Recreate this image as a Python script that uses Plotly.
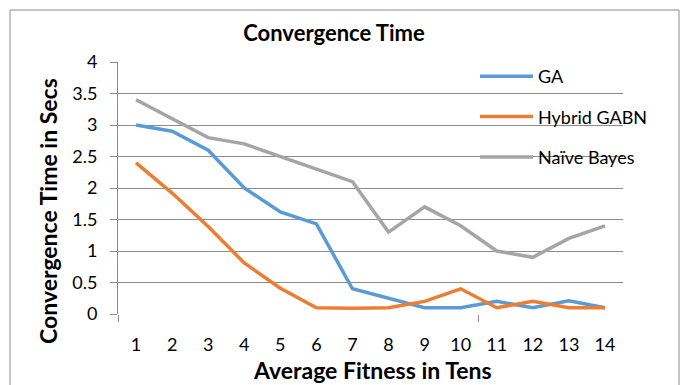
import plotly.graph_objects as go

categories = list(range(1, 15))
ga = [3.0, 2.9, 2.6, 2.0, 1.62, 1.43, 0.4, 0.25, 0.1, 0.1, 0.2, 0.1, 0.21, 0.1]
hybrid = [2.4, 1.92, 1.39, 0.81, 0.41, 0.1, 0.09, 0.1, 0.2, 0.4, 0.1, 0.2, 0.1, 0.1]
naive = [3.4, 3.1, 2.8, 2.7, 2.5, 2.3, 2.1, 1.3, 1.7, 1.4, 1.0, 0.9, 1.2, 1.4]
series_names = ["GA", "Hybrid GABN", "Naïve Bayes"]
colors = ["#5B9BD5", "#ED7D31", "#A5A5A5"]
y_ticks = [0, 0.5, 1, 1.5, 2, 2.5, 3, 3.5, 4]
y_tick_text = ["0", "0.5", "1", "1.5", "2", "2.5", "3", "3.5", "4"]

FONT = "Lato"
W, H = 681, 385
ML, MR, MT, MB = 118, 58, 62, 71
pw = W - ML - MR
ph = H - MT - MB


def px_x(p):
    return (p - ML) / pw


def px_y(p):
    return 1 - (p - MT) / ph


fig = go.Figure()
for name, vals, col in zip(series_names, [ga, hybrid, naive], colors):
    fig.add_trace(go.Scatter(x=categories, y=vals, mode="lines", name=name,
                             legendgroup=name,
                             line=dict(color=col, width=3.5)))

# invisible trace for second x axis (tick marks every 10 categories)
fig.add_trace(go.Scatter(x=[0.5, 14.5], y=[0, 0], xaxis="x2", mode="lines",
                         line=dict(width=0), showlegend=False, hoverinfo="skip"))

fig.update_layout(
    width=W, height=H,
    margin=dict(l=ML, r=MR, t=MT, b=MB, pad=0, autoexpand=False),
    paper_bgcolor="white", plot_bgcolor="white",
    font=dict(family=FONT, size=18, color="#000000"),
    title=dict(text="<b>Convergence Time</b>", x=334 / W, xanchor="center",
               y=1 - 33 / H, yanchor="middle", xref="container", yref="container",
               font=dict(family=FONT, size=22, color="#000000")),
    xaxis=dict(range=[0.5, 14.5], tickvals=categories,
               ticktext=[str(c) for c in categories], ticks="",
               showgrid=False, zeroline=False, showline=False,
               tickfont=dict(size=18), automargin=False, ticklabelstandoff=18),
    xaxis2=dict(range=[0.5, 14.5], overlaying="x", tickvals=[0.5, 10.5],
                ticks="outside", ticklen=7, tickcolor="#8C8C8C", tickwidth=1,
                showticklabels=False, showgrid=False, zeroline=False,
                showline=False, side="bottom", automargin=False),
    yaxis=dict(range=[0, 4], tickvals=y_ticks, ticktext=y_tick_text,
               ticks="outside", ticklen=7, tickcolor="#8C8C8C", tickwidth=1,
               showgrid=True, gridcolor="#8C8C8C", gridwidth=1,
               zeroline=False, showline=True, linecolor="#8C8C8C", linewidth=1,
               tickfont=dict(size=18), ticklabelstandoff=9, automargin=False),
    legend=dict(x=px_x(475), y=px_y(58), xanchor="left", yanchor="top",
                bgcolor="rgba(0,0,0,0)", font=dict(size=18),
                tracegroupgap=14, itemwidth=53),
    annotations=[
        dict(text="<b>Average Fitness in Tens</b>", xref="paper", yref="paper",
             x=px_x(372), y=px_y(370), xanchor="center", yanchor="middle",
             showarrow=False, font=dict(size=23), borderpad=0),
        dict(text="<b>Convergence Time in Secs</b>", xref="paper", yref="paper",
             x=px_x(48), y=px_y(211), xanchor="center", yanchor="middle",
             textangle=-90, showarrow=False, font=dict(size=23)),
    ],
    shapes=[dict(type="rect", xref="paper", yref="paper",
                 x0=px_x(10), x1=px_x(679),
                 y0=px_y(H + 5), y1=px_y(10),
                 line=dict(color="#8C8C8C", width=1), layer="below")],
)

fig.write_html("out.html", config={"displayModeBar": False},
               post_script="document.body.style.margin='0';document.body.style.padding='0';")
